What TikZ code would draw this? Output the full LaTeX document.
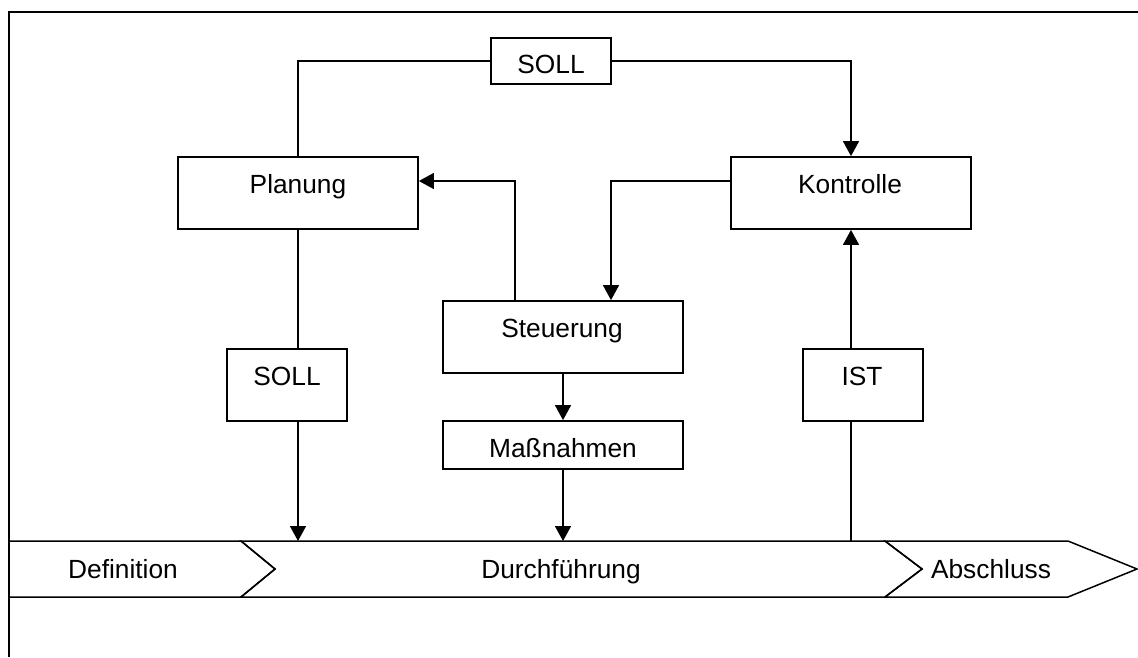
\documentclass[tikz,border=0pt]{standalone}
\usepackage{fontspec}
\setmainfont{Liberation Sans}
\usetikzlibrary{arrows.meta}
\begin{document}
\begin{tikzpicture}[x=1pt,y=-1pt,
  box/.style={draw,line width=1.8pt,inner sep=0pt},
  lbl/.style={anchor=base,inner sep=0pt,font=\fontsize{26.3}{30}\selectfont},
  conn/.style={line width=1.5pt},
  arr/.style={conn,-{Triangle[width=16pt,length=15pt]}},
  frame/.style={line width=2pt}]
\useasboundingbox (0,0) rectangle (1138,657);
% open frame
\draw[frame] (9,657) -- (9,12) -- (1138,12);
% boxes
\node[box,minimum width=120pt,minimum height=46pt] (sollt) at (551,61) {};
\node[box,minimum width=240pt,minimum height=72pt] (plan) at (298,193) {};
\node[box,minimum width=240pt,minimum height=72pt] (kon) at (851,193) {};
\node[box,minimum width=240pt,minimum height=72pt] (steu) at (563,337) {};
\node[box,minimum width=240pt,minimum height=48pt] (mass) at (563,445) {};
\node[box,minimum width=120pt,minimum height=72pt] (solll) at (287,385) {};
\node[box,minimum width=120pt,minimum height=72pt] (ist) at (863,385) {};
% labels
\node[lbl] at (551,73) {SOLL};
\node[lbl] at (298,193) {Planung};
\node[lbl] at (850,193) {Kontrolle};
\node[lbl] at (562,337) {Steuerung};
\node[lbl] at (563,457) {Maßnahmen};
\node[lbl] at (287,385) {SOLL};
\node[lbl] at (862,385) {IST};
% phase chevrons
\coordinate (ptop) at (560,541);
\draw[line width=1.5pt,line join=miter] (9,541) -- (241,541) -- (275,569) -- (241,597) -- (9,597) -- cycle;
\draw[line width=1.5pt,line join=miter] (241,541) -- (885,541) -- (922,569) -- (885,597) -- (241,597) -- (275,569) -- cycle;
\draw[line width=1.5pt,line join=miter] (885,541) -- (1068,541) -- (1137,569) -- (1068,597) -- (885,597) -- (922,569) -- cycle;
\node[lbl] (defi) at (123,578) {Definition};
\node[lbl] (durch) at (561,578) {Durchführung};
\node[lbl] (absch) at (991,578) {Abschluss};
% connectors
\draw[conn] (sollt.west) -| (plan.north);
\draw[arr] (sollt.east) -| (kon.north);
\draw[arr] ([yshift=12pt]kon.west) -| ([xshift=48pt]steu.north);
\draw[arr] ([xshift=-48pt]steu.north) |- ([yshift=12pt]plan.east);
\draw[arr] (steu.south) -- (mass.north);
\draw[arr] (mass.south) -- (mass.south |- ptop);
\draw[conn] (plan.south) -- (plan.south |- solll.north);
\draw[arr] (plan.south |- solll.south) -- (plan.south |- ptop);
\draw[conn] (kon.south |- ptop) -- (kon.south |- ist.south);
\draw[arr] (kon.south |- ist.north) -- (kon.south);
\end{tikzpicture}
\end{document}
